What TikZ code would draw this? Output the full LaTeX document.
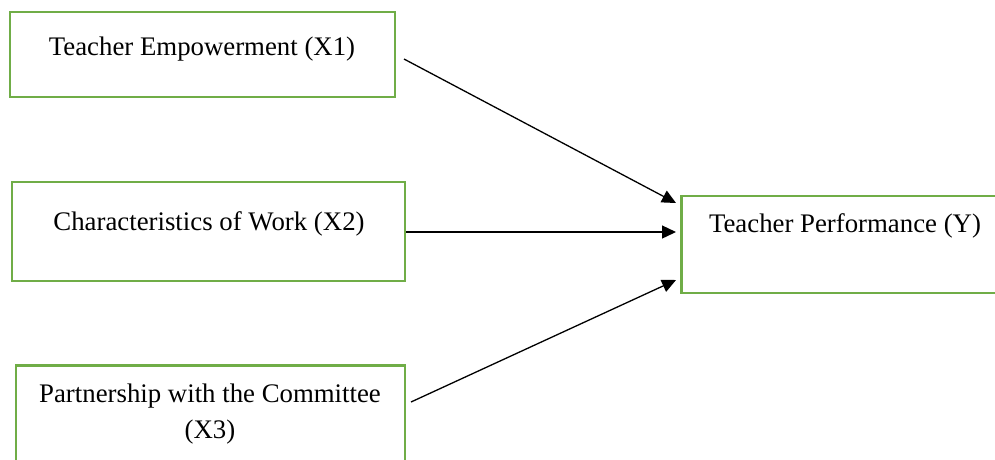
\documentclass[tikz,border=0pt]{standalone}
\usepackage{fontspec}
\setmainfont{Liberation Serif}
\usetikzlibrary{arrows.meta}
\definecolor{boxgreen}{RGB}{112,173,71}
\begin{document}
\begin{tikzpicture}[x=1pt,y=-1pt,
  greenbox/.style={draw=boxgreen,line width=2.8pt,rectangle,inner sep=0pt},
  lbl/.style={anchor=base,inner sep=0pt,font=\fontsize{26.8}{36}\selectfont},
  conn/.style={line width=1.3pt,-{Triangle[length=14pt,width=13pt]}}]
\useasboundingbox (0,0) rectangle (995,459);
% boxes
\node[greenbox,minimum width=385pt,minimum height=85pt] (x1) at (202.5,54.5) {};
\node[greenbox,minimum width=393pt,minimum height=99pt] (x2) at (208.5,231.5) {};
\node[greenbox,minimum width=389pt,minimum height=100pt] (x3) at (210.5,415.5) {};
\node[greenbox,minimum width=330pt,minimum height=97pt] (y) at (846.5,244.5) {};
% texts
\node[lbl] (t1) at (202,55) {Teacher Empowerment (X1)};
\node[lbl] (t2) at (209,230) {Characteristics of Work (X2)};
\node[lbl] (t3) at (210,402) {Partnership with the Committee};
\node[lbl] (t3b) at (210,438) {(X3)};
\node[lbl] (ty) at (845,232) {Teacher Performance (Y)};
% connectors
\coordinate (s1) at (404,59);
\coordinate (e1) at (676,203);
\coordinate (s2) at (406,232);
\coordinate (e2) at (676,232);
\coordinate (s3) at (411,402);
\coordinate (e3) at (676,280);
\draw[conn] (s1) -- (e1);
\draw[conn] (s2) -- (e2);
\draw[conn] (s3) -- (e3);
\end{tikzpicture}
\end{document}
